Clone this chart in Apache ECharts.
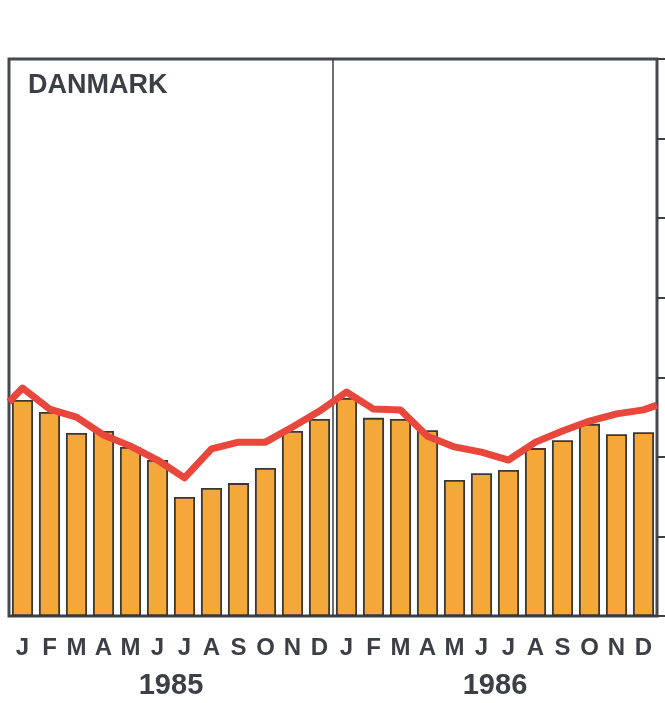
<!DOCTYPE html>
<html>
<head>
<meta charset="utf-8">
<script src="https://cdn.jsdelivr.net/npm/echarts@6/dist/echarts.min.js"></script>
<style>
  html, body { margin: 0; padding: 0; background: #fff; }
  #chart { width: 665px; height: 703px; }
</style>
</head>
<body>
<div id="chart"></div>
<script>
// months shown under the bars, two years side by side
const months = ['J', 'F', 'M', 'A', 'M', 'J', 'J', 'A', 'S', 'O', 'N', 'D',
  'J', 'F', 'M', 'A', 'M', 'J', 'J', 'A', 'S', 'O', 'N', 'D']
const years = ['1985', '1986']

// monthly bars (no scale printed, read as an index 0-140)
const barValues = [54.3, 51.3, 46.0, 46.5, 42.5, 39.2, 29.9, 32.2, 33.4, 37.2, 46.5, 49.5,
  54.8, 49.8, 49.5, 46.7, 34.2, 35.9, 36.7, 42.2, 44.2, 48.3, 45.7, 46.2]

// red trend line, positions in month index (-0.5 = left edge, 23.5 = right edge)
const linePos = [-0.5, 0, 1, 2, 3, 4, 5, 6, 7, 8, 9, 10, 11,
  12, 13, 14, 15, 16, 17, 18, 19, 20, 21, 22, 23, 23.5]
const lineValues = [53.8, 57.3, 52.0, 50.0, 45.5, 42.7, 39.2, 34.7, 42.0, 43.7, 43.7, 47.5, 51.5,
  56.3, 52.0, 51.8, 45.2, 42.5, 41.2, 39.2, 43.7, 46.5, 49.0, 50.8, 51.8, 53.0]

const ink = '#3d3f47'
const font = 'Liberation Sans, Arial, sans-serif'

const chart = echarts.init(document.getElementById('chart'))
const option = {
  animation: false,
  title: {
    text: 'DANMARK',
    left: 23,
    top: 67,
    textStyle: { color: ink, fontSize: 27, fontWeight: 'bold', fontFamily: font }
  },
  grid: {
    left: 9,
    right: 8,
    top: 59,
    bottom: 87,
    show: true,
    borderColor: '#46484f',
    borderWidth: 3
  },
  xAxis: [
    {
      type: 'category',
      data: months,
      axisLine: { lineStyle: { color: ink, width: 2 } },
      axisTick: { alignWithLabel: false, length: 10, lineStyle: { color: ink, width: 1.5 } },
      axisLabel: { interval: 0, margin: 20, color: ink, fontSize: 24, fontWeight: 'bold', fontFamily: font }
    },
    {
      type: 'value',
      min: -0.5,
      max: 23.5,
      show: false
    },
    {
      type: 'category',
      data: years,
      position: 'bottom',
      offset: 36,
      axisLine: { show: false },
      axisTick: { show: false },
      axisLabel: { margin: 19, color: ink, fontSize: 29, fontWeight: 'bold', fontFamily: font }
    }
  ],
  yAxis: {
    type: 'value',
    position: 'right',
    min: 0,
    max: 140,
    interval: 20,
    axisLine: { show: false, onZero: false },
    axisTick: { show: true, inside: false, length: 10, lineStyle: { color: ink, width: 2 } },
    axisLabel: { show: false },
    splitLine: { show: false }
  },
  series: [
    {
      type: 'bar',
      xAxisIndex: 0,
      data: barValues,
      barCategoryGap: '22%',
      itemStyle: { color: '#f5a83a', borderColor: '#383838', borderWidth: 1.8 }
    },
    {
      type: 'line',
      xAxisIndex: 1,
      data: linePos.map((x, i) => [x, lineValues[i]]),
      showSymbol: false,
      symbol: 'none',
      z: 5,
      lineStyle: { color: '#e9473b', width: 7, join: 'round' },
      markLine: {
        silent: true,
        symbol: 'none',
        label: { show: false },
        lineStyle: { color: ink, width: 1.5, type: 'solid' },
        data: [{ xAxis: 11.5 }]
      }
    }
  ]
}
chart.setOption(option)
</script>
</body>
</html>
